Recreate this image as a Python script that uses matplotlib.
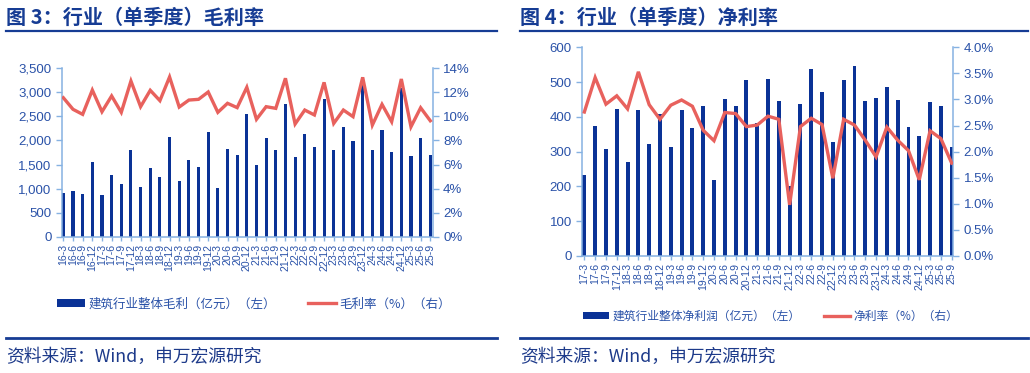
import matplotlib
matplotlib.use('Agg')
import matplotlib.pyplot as plt
from matplotlib.lines import Line2D
from matplotlib.ticker import FuncFormatter, MultipleLocator
import numpy as np

# ---------------- data ----------------
gp_quarters = ['16-3', '16-6', '16-9', '16-12', '17-3', '17-6', '17-9', '17-12',
               '18-3', '18-6', '18-9', '18-12', '19-3', '19-6', '19-9', '19-12',
               '20-3', '20-6', '20-9', '20-12', '21-3', '21-6', '21-9', '21-12',
               '22-3', '22-6', '22-9', '22-12', '23-3', '23-6', '23-9', '23-12',
               '24-3', '24-6', '24-9', '24-12', '25-3', '25-6', '25-9']
gross_profit = [914, 950, 887, 1552, 866, 1282, 1088, 1795, 1026, 1434,
                1247, 2072, 1157, 1588, 1455, 2170, 1012, 1823, 1692, 2557,
                1490, 2045, 1802, 2752, 1650, 2141, 1871, 2868, 1802, 2273,
                1990, 3152, 1802, 2218, 1754, 3097, 1677, 2045, 1698]
gross_margin = [11.55, 10.59, 10.17, 12.19, 10.39, 11.70, 10.34, 12.94, 10.81, 12.17,
                11.31, 13.28, 10.78, 11.36, 11.42, 12.03, 10.34, 11.09, 10.73, 12.42,
                9.76, 10.81, 10.67, 13.17, 9.37, 10.53, 10.12, 12.83, 9.42, 10.53,
                9.98, 13.25, 9.28, 11.00, 9.56, 13.11, 9.14, 10.72, 9.64]

np_quarters = ['17-3', '17-6', '17-9', '17-12',
               '18-3', '18-6', '18-9', '18-12', '19-3', '19-6', '19-9', '19-12',
               '20-3', '20-6', '20-9', '20-12', '21-3', '21-6', '21-9', '21-12',
               '22-3', '22-6', '22-9', '22-12', '23-3', '23-6', '23-9', '23-12',
               '24-3', '24-6', '24-9', '24-12', '25-3', '25-6', '25-9']
net_profit = [233, 375, 308, 424, 269, 420, 321, 407, 312, 420,
              368, 432, 218, 451, 430, 507, 383, 510, 445, 201,
              438, 537, 472, 328, 505, 546, 445, 453, 486, 449,
              370, 344, 444, 431, 313]
net_margin = [2.76, 3.42, 2.91, 3.07, 2.82, 3.53, 2.90, 2.62, 2.89, 2.99,
              2.87, 2.41, 2.21, 2.75, 2.73, 2.48, 2.51, 2.68, 2.62, 0.98,
              2.48, 2.64, 2.52, 1.49, 2.62, 2.51, 2.22, 1.90, 2.47, 2.22,
              2.02, 1.46, 2.40, 2.25, 1.78]

# ---------------- style ----------------
plt.rcParams['font.family'] = ['Liberation Sans', 'Noto Sans CJK SC', 'DejaVu Sans']
BAR = '#0a3296'
LINE = '#e8615d'
SPINE = '#86b2e2'
TICKC = '#2a52a8'
TITLEC = '#163c94'
SRC = '#1d3a8a'

W, H = 1030, 373
fig = plt.figure(figsize=(W / 100, H / 100), dpi=100)


def px_axes(x0, x1, ytop, ybot):
    return fig.add_axes([x0 / W, 1 - ybot / H, (x1 - x0) / W, (ybot - ytop) / H])


def style_axes(ax, ax2):
    for a in (ax, ax2):
        a.spines['top'].set_visible(False)
        for s in ('left', 'right', 'bottom'):
            a.spines[s].set_color(SPINE)
            a.spines[s].set_linewidth(1.1)
        a.tick_params(axis='y', colors=SPINE, labelcolor=TICKC, labelsize=9.5,
                      length=4, width=1, direction='out')
        a.tick_params(axis='x', colors=SPINE, labelcolor=TICKC, labelsize=7.6,
                      length=3, width=1, direction='out', pad=2)
    ax.spines['right'].set_visible(False)
    ax2.spines['left'].set_visible(False)
    ax2.spines['bottom'].set_visible(False)
    ax.set_facecolor('none')


def panel(x0, x1, ytop, ybot, cats, bars, line, ymax, ystep, rmax, rstep,
          lfmt, rfmt, bw, xl, xr):
    ax = px_axes(x0, x1, ytop, ybot)
    ax2 = ax.twinx()
    x = np.arange(len(cats))
    b = ax.bar(x, bars, width=bw, color=BAR, zorder=2)
    l, = ax2.plot(x, line, color=LINE, lw=2.4, solid_joinstyle='miter', zorder=3)
    ax.set_xlim(xl, len(cats) - 1 + xr)
    ax.set_ylim(0, ymax)
    ax.yaxis.set_major_locator(MultipleLocator(ystep))
    ax.yaxis.set_major_formatter(FuncFormatter(lfmt))
    ax2.set_ylim(0, rmax)
    ax2.yaxis.set_major_locator(MultipleLocator(rstep))
    ax2.yaxis.set_major_formatter(FuncFormatter(rfmt))
    ax.set_xticks(x)
    ax.set_xticklabels(cats, rotation=90, ha='center', va='top')
    style_axes(ax, ax2)
    return ax, ax2, b, l


# ---------------- left panel ----------------
axL, axL2, bL, lL = panel(62, 432.7, 68.3, 236.7, gp_quarters, gross_profit, gross_margin,
                          3500, 500, 14, 2,
                          lambda v, p: f'{int(v):,}', lambda v, p: f'{int(round(v))}%',
                          0.32, -0.14, 0.25)

# ---------------- right panel ----------------
axR, axR2, bR, lR = panel(582.3, 953.3, 47.3, 256, np_quarters, net_profit, net_margin,
                          600, 100, 4.0, 0.5,
                          lambda v, p: f'{int(v)}', lambda v, p: f'{v:.1f}%',
                          0.36, -0.19, 0.15)

# ---------------- titles & decorations ----------------
title_font = dict(family=['Noto Sans CJK SC', 'DejaVu Sans'], fontsize=14.5,
                  fontweight='bold', color=TITLEC, va='center', ha='left')
fig.text(6 / W, 1 - 17 / H, '图 3：行业（单季度）毛利率', **title_font)
fig.text(520 / W, 1 - 17 / H, '图 4：行业（单季度）净利率', **title_font)

for (a, b) in ((6, 497), (520, 1028)):
    fig.add_artist(Line2D([a / W, b / W], [1 - 30.5 / H, 1 - 30.5 / H],
                          transform=fig.transFigure, color=TITLEC, lw=1.6))
    fig.add_artist(Line2D([a / W, b / W], [1 - 338 / H, 1 - 338 / H],
                          transform=fig.transFigure, color=TITLEC, lw=2.0))

src_font = dict(family=['Noto Sans CJK SC', 'DejaVu Sans'], fontsize=12.8,
                color=SRC, va='center', ha='left')
fig.text(6 / W, 1 - 357 / H, '资料来源：Wind，申万宏源研究', **src_font)
fig.text(520 / W, 1 - 357 / H, '资料来源：Wind，申万宏源研究', **src_font)

# ---------------- legends ----------------
leg_kw = dict(loc='center', ncol=2, frameon=False, handlelength=2.2, handleheight=0.6,
              handletextpad=0.3, borderaxespad=0, labelcolor=TICKC)
fig.legend([bL, lL], ['建筑行业整体毛利（亿元）（左）', '毛利率（%）（右）'],
           bbox_to_anchor=(254 / W, 1 - 304 / H), columnspacing=2.6,
           prop={'family': ['Noto Sans CJK SC', 'DejaVu Sans'], 'size': 9}, **leg_kw)
fig.legend([bR, lR], ['建筑行业整体净利润（亿元）（左）', '净利率（%）（右）'],
           bbox_to_anchor=(771 / W, 1 - 316 / H), columnspacing=2.0,
           prop={'family': ['Noto Sans CJK SC', 'DejaVu Sans'], 'size': 8.5}, **leg_kw)

fig.savefig('out.png', dpi=100)
